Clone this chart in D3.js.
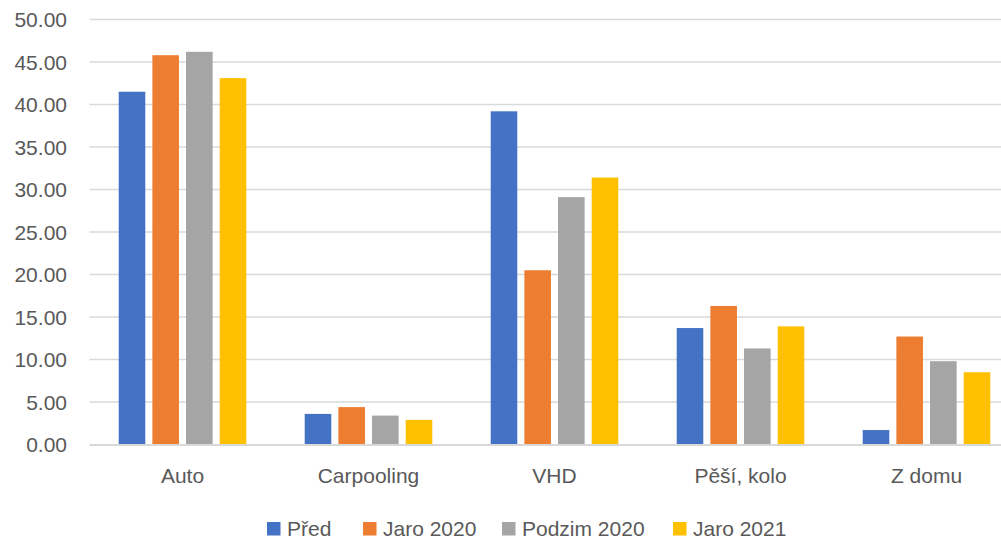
<!DOCTYPE html>
<html><head><meta charset="utf-8">
<script src="https://cdn.jsdelivr.net/npm/d3@7"></script>
<style>body{margin:0;background:#fff}svg{display:block}</style>
</head><body><svg id="c" width="1001" height="538"></svg>
<script>
const categories = ["Auto", "Carpooling", "VHD", "Pěší, kolo", "Z domu"];
const seriesNames = ["Před", "Jaro 2020", "Podzim 2020", "Jaro 2021"];
const pred = [41.5, 3.6, 39.2, 13.7, 1.7];
const jaro2020 = [45.8, 4.4, 20.5, 16.3, 12.7];
const podzim2020 = [46.2, 3.4, 29.1, 11.3, 9.8];
const jaro2021 = [43.1, 2.9, 31.4, 13.9, 8.5];
const yTicks = [0, 5, 10, 15, 20, 25, 30, 35, 40, 45, 50];
const colors = ["#4472C4", "#ED7D31", "#A5A5A5", "#FFC000"];
const series = [pred, jaro2020, podzim2020, jaro2021];

const font = "'Liberation Sans', Arial, sans-serif";
const fs = 21;
const svg = d3.select("#c");
const W = 1001;
const plotL = 89.5, catStep = 186;
const x0 = d3.scaleBand().domain(categories).range([plotL, plotL + catStep * categories.length])
  .paddingInner(0.314).paddingOuter(0.157);
const x1 = d3.scaleBand().domain(seriesNames).range([0, x0.bandwidth()]).paddingInner(0.21);
const y = d3.scaleLinear().domain([0, 50]).range([444.5, 19.5]);

const g = svg.append("g");
g.selectAll("line.grid").data(yTicks.filter(d => d > 0)).join("line")
  .attr("x1", plotL).attr("x2", W)
  .attr("y1", d => y(d)).attr("y2", d => y(d))
  .attr("stroke", "#d9d9d9").attr("stroke-width", 1.5);

g.selectAll("text.yl").data(yTicks).join("text")
  .attr("x", 67).attr("y", d => y(d)).attr("dy", "0.36em")
  .attr("text-anchor", "end").attr("fill", "#595959")
  .attr("font-family", font).attr("font-size", fs)
  .text(d => d3.format(".2f")(d));

categories.forEach((c, i) => {
  const gc = g.append("g").attr("transform", `translate(${x0(c)},0)`);
  gc.selectAll("rect").data(series.map((s, k) => ({k, v: s[i]}))).join("rect")
    .attr("x", d => x1(seriesNames[d.k])).attr("width", x1.bandwidth())
    .attr("y", d => y(d.v)).attr("height", d => y(0) - y(d.v))
    .attr("fill", d => colors[d.k]);
});

g.append("line").attr("x1", plotL).attr("x2", W).attr("y1", y(0) + 0.5).attr("y2", y(0) + 0.5)
  .attr("stroke", "#d9d9d9").attr("stroke-width", 2);

g.selectAll("text.xl").data(categories).join("text")
  .attr("x", d => x0(d) + x0.bandwidth() / 2).attr("y", 483)
  .attr("text-anchor", "middle").attr("fill", "#595959")
  .attr("font-family", font).attr("font-size", fs)
  .text(d => d);

const legX = [267, 363, 502, 673];
const lg = g.selectAll("g.leg").data(seriesNames).join("g")
  .attr("transform", (d, i) => `translate(${legX[i]},522)`);
lg.append("rect").attr("width", 13.5).attr("height", 13.5).attr("fill", (d, i) => colors[i]);
lg.append("text").attr("x", 20).attr("y", 13.5).attr("fill", "#595959")
  .attr("font-family", font).attr("font-size", fs).text(d => d);
</script></body></html>
